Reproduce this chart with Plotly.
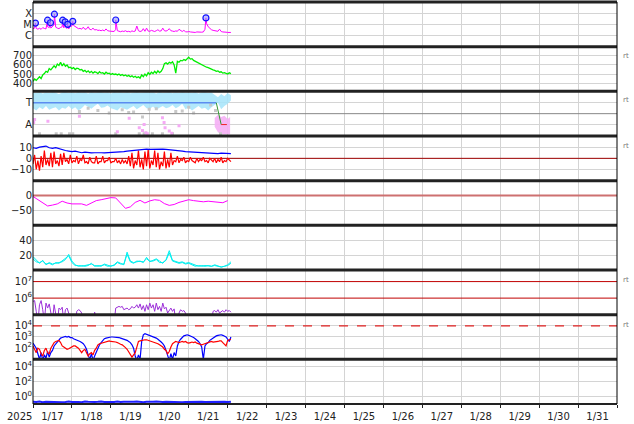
import numpy as np
import pandas as pd
import plotly.graph_objects as go
from plotly.subplots import make_subplots

T0 = pd.Timestamp("2025-01-17")
X_END = pd.Timestamp("2025-02-01")

# ---------------- data ----------------
# X-ray flux, hourly, in units of 1e-6 W/m^2 (C1 = 1)
xray_c = [4.0,4.5,4.2,3.6,4.4,3.5,5.0,4.2,3.8,6.0,5.0,4.5,6.5,9.0,5.5,4.5,4.0,5.2,6.0,4.8,
          5.5,4.2,3.8,6.5,7.0,8.0,6.5,5.0,4.0,4.3,3.6,5.5,3.5,3.8,6.0,3.4,3.2,4.5,3.0,3.3,
          2.8,2.9,2.6,3.0,2.5,3.8,2.6,2.4,2.3,2.5,2.2,3.5,2.6,2.3,2.1,2.4,2.2,2.6,2.1,2.3,
          2.0,2.5,2.2,2.4,7.0,2.6,2.2,2.4,4.0,2.3,4.5,2.4,2.3,2.8,2.5,2.2,2.6,3.2,2.4,2.5,
          4.5,2.6,2.4,2.8,4.0,2.6,2.4,2.2,2.5,2.3,3.5,2.5,2.2,2.8,2.1,2.0,2.2,2.0,1.9,2.1,
          1.8,2.0,1.9,2.1,1.9,2.0,3.5,12.0,6.0,4.0,3.2,2.8,2.5,2.6,2.3,3.6,2.2,2.0,2.1,1.9,
          1.8,1.9,1.8]
flare_hours = [1.5, 9.0, 10.8, 13.2, 18.3, 19.8, 21.4, 24.5, 51.0, 106.6]
flare_c = [13, 24, 14, 85, 24, 17, 10, 19, 25, 39]

# Solar wind speed, hourly (km/s)
speed = [420,445,430,455,470,450,490,505,530,520,560,545,575,590,570,610,595,630,590,615,
         585,600,570,575,560,570,550,565,560,545,550,530,540,520,535,515,530,510,525,520,
         505,525,510,515,500,520,505,510,495,505,495,500,490,500,485,495,480,490,475,485,
         470,480,465,475,460,470,455,490,470,500,480,515,495,520,505,530,510,535,515,530,
         560,615,625,610,630,620,635,600,510,640,630,650,645,660,650,670,685,665,670,650,
         640,630,620,610,600,595,585,575,570,560,555,545,540,530,535,520,525,510,515,505,
         500,515,505]

# Sector (T=+1 / A=-1) band, 2-hourly
sector_low = [0.5,0.3,0.6,0.4,0.7,0.35,0.5,0.6,0.3,0.55,0.45,0.7,0.4,0.6,0.3,0.5,0.8,0.6,0.45,0.7,
              0.9,0.55,0.6,0.75,0.5,0.4,0.3,0.6,0.45,0.35,0.55,0.7,0.4,0.6,0.8,0.5,0.45,0.65,0.35,0.55,
              0.7,0.5,0.6,0.8,0.5,0.65,0.9,0.4,0.6,0.3,0.5,0.7,0.45,0.55,0.3,0.6,0.8,1.0,0.4,0.7,
              0.9,1.2]
sector_high = [1.95,1.9,1.97,1.85,1.95,1.9,1.97,1.93,1.8,1.95,1.97,1.9,1.95,1.88,1.97,1.92,1.95,1.85,1.97,1.9,
               1.95,1.97,1.9,1.95,1.85,1.97,1.93,1.95,1.9,1.97,1.88,1.95,1.97,1.9,1.95,1.97,1.92,1.95,1.85,1.97,
               1.9,1.95,1.97,1.88,1.95,1.9,1.97,1.93,1.95,1.9,1.97,1.85,1.95,1.97,1.9,1.95,1.7,1.5,1.8,1.6,
               1.9,1.7]
sector_line_hours = [0, 113, 116, 119.5]
sector_line_vals = [1, 1, -1, -1]
gray_hours = [4,14.3,17.4,22.5,24.5,51,65.5,68.5,73.6,79.8,86,115.6,28.6,47,59,67.5,71.6,88,96,99,109.5,112.5,34,40,55,62,76,92]
gray_vals = [-1.84,-1.84,-1.84,-1.84,-1.84,-1.84,-1.84,-1.84,-1.84,-1.84,-1.84,-1.84,
             0.2,0.05,0.1,-0.3,0.4,0.2,0.6,0.05,0.8,0.3,0.5,0.3,0.35,0.15,0.45,0.25]
pink_hours = [0.4,1,9.2,28.6,52,59.3,65.5,67.5,68.5,69.6,70.5,79.8,80.8,81.4,84,85.5,90]
pink_vals = [-0.8,-0.53,-0.7,-0.23,-1.65,-0.43,-1.3,-1.55,-1.0,-1.75,-1.85,-0.38,-0.8,-1.3,-1.6,-1.8,-1.1]
pink_band_hours = [112,114,116,118,120,121.5]
pink_band_low = [-1.2,-1.7,-1.9,-1.9,-1.85,-1.9]
pink_band_high = [-0.4,-0.1,-0.3,-0.2,-0.5,-0.3]

# IMF Bt (2-hourly) and Bz (hourly), nT
bt = [9.5,9,10,10.5,11,9.5,9,9.5,8.5,8,7,6.5,6,6.5,5.5,5,5.5,5,4.8,5,5.2,5,4.8,5,5.2,5,5.5,5.8,6,6.5,
      6.8,7,7.5,7.8,8,8.2,8,8.2,8,8.5,8.2,8,7.8,7.5,7.2,7,6.5,6,5.8,5.5,5.2,5,4.8,4.6,4.5,4.8,4.5,4.3,4.6,4.4,
      4.5,4.2]
bz = [-5,3,-10,-2,-11,2,-8,7,-6,-1,-7,5,-8,6,-5,-2,-7,4,-6,5,-3,-1,-5,3,-4,-2,-3,2,-5,-1,
      -2,3,-4,-3,-5,1,-3,-4,-4,2,-5,-3,-3,2,-4,-2,-2,1,-4,-3,-3,0,-4,-2,-5,-1,-4,-2,-5,2,
      -7,5,-9,-2,-6,7,-8,-1,-10,6,-7,8,-9,-2,-6,7,-8,5,-10,-3,-7,6,-9,-1,-8,5,-6,-2,-3,2,
      -4,-1,-2,1,-4,-2,-3,1,-2,-3,-4,0,-3,-1,-2,1,-3,-2,-4,0,-2,-3,0,-4,-1,-3,1,-4,-2,-3,
      0,-2,-3]

# Dst, 3-hourly (nT)
dst = [-3,-14,-27,-35,-32,-28,-19,-25,-28,-27,-28,-33,-24,-17,-14,-11,-7,-8,-24,-43,
       -38,-23,-16,-25,-18,-14,-16,-27,-33,-30,-23,-18,-14,-17,-20,-21,-19,-20,-22,-24,-17]

# Index (cyan), 2-hourly, two traces
idx_a = [18,13,9,13,7,10,8,9,10,11,14,21,12,7,5,6,5,6,9,5,6,5,8,6,5,7,11,9,7,24,
         12,10,11,12,10,17,11,13,15,12,9,14,26,13,11,10,11,9,10,8,6,5,6,5,6,5,7,5,4,5,
         6,9]
idx_b = [15,11,10,12,8,9,7,10,9,12,15,19,10,6,6,5,6,7,8,6,5,6,7,5,6,6,10,8,8,21,
         11,9,12,11,11,15,12,12,14,10,10,13,23,12,10,9,10,8,9,7,5,6,5,6,5,5,6,5,4,5,
         7,11]

# Proton-like flux (purple), hourly log10
purple_log = [5.8,5.85,5.2,4.5,5.6,5.85,5.3,4.6,5.7,5.4,5.65,5.3,4.6,5.6,5.2,4.5,5.4,5.3,5.45,4.6,
              5.3,5.4,5.1,4.5,4.5,4.5,4.5,5.2,5.3,5.25,5.1,4.5,4.5,4.5,4.5,4.5,4.5,4.5,5.15,4.5,
              4.5,4.5,4.5,4.5,4.5,4.5,4.5,4.5,4.5,4.5,4.5,5.4,5.45,5.5,5.45,5.5,5.3,5.35,5.4,5.3,
              5.35,5.5,5.4,5.45,5.6,5.4,5.65,5.3,5.55,5.2,5.6,5.3,5.7,5.4,5.6,5.2,5.7,5.3,5.5,5.2,
              5.7,5.35,5.45,5.1,5.3,5.4,5.2,5.35,4.6,4.5,5.1,5.3,5.2,5.25,5.1,4.5,4.5,4.5,4.5,4.5,
              4.5,4.5,4.5,4.5,4.5,4.5,4.5,4.5,4.5,4.5,4.5,5.2,5.25,5.15,5.3,5.1,5.2,5.25,5.15,5.3,
              5.2,5.25,5.15]

# Electron flux (blue / red), hourly log10
elec_blue = [2.45,2.2,2.0,1.5,1.0,1.6,0.9,1.4,1.1,1.7,1.2,1.6,1.8,2.2,2.4,2.6,2.75,2.9,2.95,3.0,
             3.05,3.0,3.05,2.95,2.95,2.85,2.8,2.75,2.7,2.6,2.5,2.4,2.2,1.9,1.4,1.0,1.5,0.9,1.3,1.7,
             2.0,2.3,2.5,2.7,2.85,2.9,2.95,3.0,3.0,3.0,3.0,2.95,2.95,2.95,2.9,2.85,2.85,2.8,2.7,2.6,
             2.5,2.3,2.0,1.3,0.9,1.4,1.0,2.6,3.2,3.3,3.25,3.2,3.15,3.1,3.05,3.0,2.9,2.8,2.7,2.55,
             2.4,2.2,1.8,1.2,0.9,1.5,1.0,1.6,1.3,2.2,2.6,2.8,3.0,3.1,3.15,3.2,3.15,3.1,3.05,2.95,
             2.85,2.75,2.6,2.4,2.1,1.0,2.2,2.4,2.5,2.7,2.8,2.95,3.05,3.1,3.15,3.2,3.2,3.15,3.1,3.0,
             2.8,2.6,3.0]
elec_red = [2.2,1.9,1.6,2.0,1.9,1.5,1.3,1.8,2.0,1.6,1.5,2.0,2.3,2.5,2.6,2.65,2.7,2.5,2.2,2.1,
            2.0,1.9,1.95,2.05,2.1,2.2,2.2,2.1,2.0,1.8,1.6,1.8,1.9,1.6,1.3,1.5,1.6,1.4,1.8,2.0,
            2.3,2.4,2.45,2.5,2.55,2.6,2.6,2.65,2.6,2.6,2.6,2.55,2.5,2.4,2.35,2.3,2.2,2.05,1.9,1.7,
            1.5,1.2,1.4,1.6,2.1,2.6,2.65,2.7,2.7,2.75,2.75,2.7,2.7,2.65,2.6,2.5,2.45,2.4,2.3,2.2,
            2.1,1.9,1.8,1.5,1.7,2.1,2.4,2.5,2.6,2.55,2.5,2.55,2.6,2.55,2.6,2.5,2.45,2.5,2.55,2.5,
            2.55,2.45,2.4,2.35,2.3,2.35,2.4,2.45,2.5,2.55,2.6,2.55,2.55,2.6,2.6,2.65,2.65,2.5,2.3,2.2,
            2.7,2.75,2.8]

# Bottom panel (blue), 2-hourly values
bottom_vals = [0.2,0.18,0.22,0.17,0.2,0.19,0.21,0.18,0.2,0.17,0.19,0.22,0.18,0.2,0.19,0.17,0.21,0.2,0.18,0.19,
               0.2,0.22,0.18,0.17,0.2,0.19,0.21,0.18,0.2,0.19,0.18,0.2,0.21,0.19,0.17,0.2,0.18,0.2,0.22,0.19,
               0.18,0.2,0.19,0.21,0.18,0.2,0.17,0.19,0.2,0.18,0.21,0.19,0.2,0.18,0.19,0.2,0.21,0.18,0.19,0.2,
               0.18,0.2]

day_labels_fmt = "%-m/%-d"
year_label = "2025"

# ---------------- helpers ----------------
def hrs(h):
    return T0 + pd.to_timedelta(np.asarray(h, dtype=float), unit="h")

def series_times(n, step):
    return hrs(np.arange(n) * step)

FULL = [T0, X_END]

fig = make_subplots(rows=9, cols=1, shared_xaxes=True, vertical_spacing=0)

def line(x, y, color, row, width=1, **kw):
    fig.add_trace(go.Scatter(x=x, y=y, mode="lines", line=dict(color=color, width=width),
                             hoverinfo="skip", **kw), row=row, col=1)

# Panel 1: X-ray
xr = pd.DataFrame({"h": list(range(len(xray_c))) + flare_hours,
                   "v": xray_c + flare_c}).sort_values("h")
line(hrs(xr["h"]), xr["v"] * 1e-6, "#ff00ff", 1, width=1)
fig.add_trace(go.Scatter(x=hrs(flare_hours), y=np.array(flare_c) * 1e-6, mode="markers",
                         marker=dict(symbol="circle", size=6, color="rgba(150,150,255,0.6)",
                                     line=dict(color="#1010ff", width=1.2)),
                         hoverinfo="skip"), row=1, col=1)

# Panel 2: speed
line(series_times(len(speed), 1), speed, "#00ee00", 2, width=1.3)

# Panel 3: sector
st = series_times(len(sector_low), 2)
fig.add_trace(go.Scatter(x=st, y=sector_low, mode="lines", line=dict(width=0), hoverinfo="skip"), row=3, col=1)
fig.add_trace(go.Scatter(x=st, y=sector_high, mode="lines", line=dict(width=0), fill="tonexty",
                         fillcolor="rgba(165,228,250,0.85)", hoverinfo="skip"), row=3, col=1)
pb = hrs(pink_band_hours)
fig.add_trace(go.Scatter(x=pb, y=pink_band_low, mode="lines", line=dict(width=0), hoverinfo="skip"), row=3, col=1)
fig.add_trace(go.Scatter(x=pb, y=pink_band_high, mode="lines", line=dict(width=0), fill="tonexty",
                         fillcolor="rgba(245,175,245,0.9)", hoverinfo="skip"), row=3, col=1)
fig.add_trace(go.Scatter(x=hrs(gray_hours), y=gray_vals, mode="markers",
                         marker=dict(symbol="square", size=3, color="#c8c8c8"), hoverinfo="skip"), row=3, col=1)
fig.add_trace(go.Scatter(x=hrs(pink_hours), y=pink_vals, mode="markers",
                         marker=dict(symbol="square", size=3, color="#f5aaf5"), hoverinfo="skip"), row=3, col=1)
line(FULL, [0, 0], "#888888", 3, width=1)
sl = hrs(sector_line_hours)
line(sl[0:2], sector_line_vals[0:2], "#5b8cf0", 3, width=1.5)
line(sl[1:3], sector_line_vals[1:3], "#339933", 3, width=1)
line(sl[2:4], sector_line_vals[2:4], "#ee2222", 3, width=1)

# Panel 4: IMF
line(FULL, [0, 0], "#a00000", 4, width=1)
line(series_times(len(bz), 1), bz, "#ff0000", 4, width=1.2)
line(series_times(len(bt), 2), bt, "#0000ff", 4, width=1.2)

# Panel 5: Dst
line(FULL, [0, 0], "#cd7070", 5, width=2)
line(series_times(len(dst), 3), dst, "#ff00ff", 5, width=1)

# Panel 6: index
line(series_times(len(idx_a), 2), idx_a, "#00f0f0", 6, width=1)
line(series_times(len(idx_b), 2), idx_b, "#00f0f0", 6, width=1)

# Panel 7: purple
line(FULL, [1e7, 1e7], "#c00000", 7, width=1)
line(FULL, [1e6, 1e6], "#c00000", 7, width=1)
line(series_times(len(purple_log), 1), 10 ** np.array(purple_log), "#9c30d8", 7, width=1)

# Panel 8: electrons
fig.add_trace(go.Scatter(x=FULL, y=[1e4, 1e4], mode="lines",
                         line=dict(color="#e02020", width=1.2, dash="dash"), hoverinfo="skip"), row=8, col=1)
line(series_times(len(elec_blue), 1), 10 ** np.array(elec_blue), "#0000ff", 8, width=1.2)
line(series_times(len(elec_red), 1), 10 ** np.array(elec_red), "#ff0000", 8, width=1.2)

# Panel 9
line(series_times(len(bottom_vals), 2), bottom_vals, "#2020ff", 9, width=2)

# ---------------- axes ----------------
tickfont = dict(family="DejaVu Sans", size=10, color="#222222")
grid = "#d4d4d4"
yspecs = {
    1: dict(type="log", range=[-7.05, -2.95], tickvals=[1e-6, 1e-5, 1e-4], ticktext=["C", "M", "X"]),
    2: dict(range=[309, 802], tickvals=[400, 500, 600, 700], ticktext=["400", "500", "600", "700"]),
    3: dict(range=[-2.05, 2.05], tickvals=[1, -1], ticktext=["T", "A"]),
    4: dict(range=[-20, 20], tickvals=[10, 0, -10], ticktext=["10", "0", "\u221210"]),
    5: dict(range=[-100, 50], tickvals=[0, -50], ticktext=["0", "\u221250"]),
    6: dict(range=[0, 60], tickvals=[20, 40], ticktext=["20", "40"]),
    7: dict(type="log", range=[5.0, 7.7], tickvals=[1e6, 1e7], ticktext=["10<sup>6</sup>", "10<sup>7</sup>"], showgrid=False),
    8: dict(type="log", range=[1, 5], tickvals=[1e2, 1e3, 1e4], ticktext=["10<sup>2</sup>", "10<sup>3</sup>", "10<sup>4</sup>"]),
    9: dict(type="log", range=[-1, 5], tickvals=[1, 1e2, 1e4], ticktext=["10<sup>0</sup>", "10<sup>2</sup>", "10<sup>4</sup>"]),
}
for r, spec in yspecs.items():
    base = dict(tickmode="array", showgrid=True, gridcolor=grid, gridwidth=1, zeroline=False,
                showline=False, ticks="", tickfont=tickfont, fixedrange=True)
    base.update(spec)
    fig.update_yaxes(row=r, col=1, **base)

for r in range(1, 10):
    fig.update_xaxes(row=r, col=1, type="date", range=FULL, tick0=T0, dtick=86400000,
                     showgrid=True, gridcolor=grid, gridwidth=1, zeroline=False, showline=False,
                     showticklabels=(r == 9), ticks=("outside" if r == 9 else ""), ticklen=3,
                     tickcolor="#222222", tickformat=day_labels_fmt, ticklabelmode="period",
                     tickfont=dict(family="DejaVu Sans", size=10, color="#222222"))

# panel separators and borders
shapes = []
for k in range(1, 10):
    shapes.append(dict(type="line", xref="paper", yref="paper", x0=0, x1=1, y0=k / 9, y1=k / 9,
                       line=dict(color="#222222", width=3)))
shapes.append(dict(type="line", xref="paper", yref="paper", x0=0, x1=1, y0=0, y1=0,
                   line=dict(color="#222222", width=2)))
for xx in (0, 1):
    shapes.append(dict(type="line", xref="paper", yref="paper", x0=xx, x1=xx, y0=0, y1=1,
                       line=dict(color="#000000", width=1)))

annotations = [dict(text=year_label, xref="paper", yref="paper", x=-0.023, y=-0.03,
                    xanchor="center", yanchor="middle", showarrow=False,
                    font=dict(family="DejaVu Sans", size=10, color="#222222"))]
for yp in (0.8667, 0.7556, 0.642, 0.3086, 0.1975):
    annotations.append(dict(text="rt", xref="paper", yref="paper", x=1.006, y=yp, xanchor="left",
                            yanchor="middle", showarrow=False,
                            font=dict(family="DejaVu Sans", size=7, color="#777777")))

fig.update_layout(width=634, height=424, margin=dict(l=33, r=17, t=2, b=17),
                  plot_bgcolor="white", paper_bgcolor="white", showlegend=False,
                  shapes=shapes, annotations=annotations, hovermode=False)

fig.write_html("out.html", config={"displayModeBar": False},
               post_script="document.body.style.margin='0';document.body.style.overflow='hidden';")
